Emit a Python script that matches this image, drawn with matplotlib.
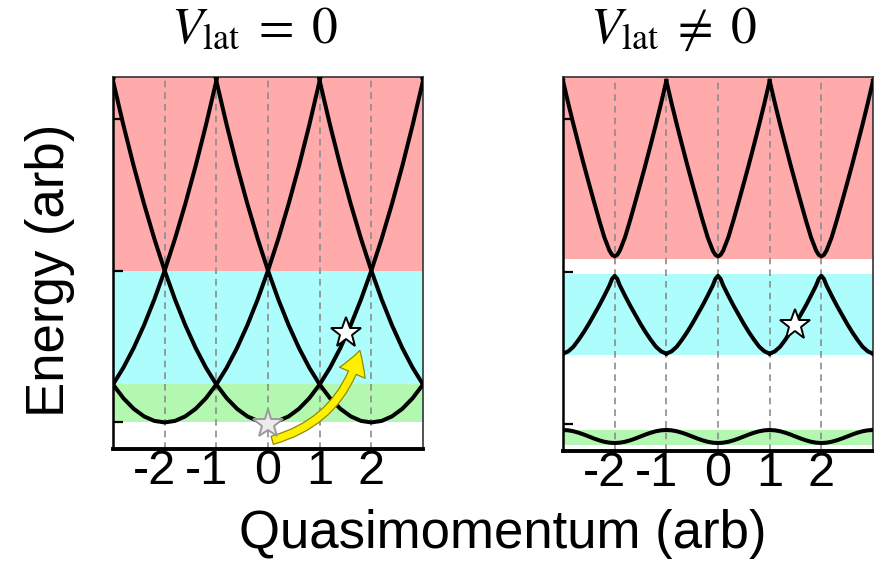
"""Free-particle vs lattice band structure, two panels."""
import numpy as np
import matplotlib
matplotlib.use("Agg")
import matplotlib.pyplot as plt
from matplotlib.patches import FancyArrowPatch
from matplotlib.transforms import ScaledTranslation

plt.rcParams["font.family"] = ["Liberation Sans", "DejaVu Sans"]
plt.rcParams["mathtext.fontset"] = "stix"

# ---------- data ----------
q_ticks = [-2, -1, 0, 1, 2]
q_tick_labels = ["-2", "-1", "0", "1", "2"]
y_ticks = [0, 4, 8]

# V_lat = 0 : free parabolas, one shape repeated at each reciprocal-lattice centre
free_centres = [-6, -4, -2, 0, 2, 4, 6]
free_dq = [0.0, 0.2, 0.4, 0.6, 0.8, 1.0, 1.2, 1.4, 1.6, 1.8, 2.0,
           2.2, 2.4, 2.6, 2.8, 3.0, 3.2]
free_E = [0.0, 0.04, 0.16, 0.36, 0.64, 1.0, 1.44, 1.96, 2.56, 3.24, 4.0,
          4.84, 5.76, 6.76, 7.84, 9.0, 10.24]
free_bands = [(0.0, 1.0, "#b3f8b1"), (1.0, 4.0, "#adfdfd"),
              (4.0, 9.2, "#ffabab")]

# V_lat != 0 : one half-period of each band (offset from q = 0, 2, ...)
lat_centres = [-4, -2, 0, 2, 4]
lat_dq = [0.0, 0.05, 0.1, 0.2, 0.3, 0.4, 0.5, 0.6, 0.7, 0.8, 0.9, 1.0]
band1_E = [-0.49, -0.487, -0.482, -0.458, -0.42, -0.373, -0.32, -0.267,
           -0.22, -0.182, -0.158, -0.15]
band2_E = [3.89, 3.81, 3.64, 3.37, 3.11, 2.87, 2.63, 2.41, 2.21, 2.03,
           1.91, 1.85]
band3_E = [4.40, 4.44, 4.55, 4.90, 5.35, 5.83, 6.32, 6.82, 7.34, 7.87,
           8.42, 9.0]
lat_bands = [(-0.53, -0.14, "#b3f8b1"), (1.81, 3.94, "#adfdfd"),
             (4.33, 9.2, "#ffabab")]

# stars (q, E)
free_star_q, free_star_E = [0.0, 1.5], [-0.05, 2.36]
lat_star_q, lat_star_E = [1.49], [2.60]
arrow_start = (0.03, -0.49)
arrow_end = (1.79, 1.97)

W, H = 874, 562
fig = plt.figure(figsize=(W / 100, H / 100), dpi=100)
ax1 = fig.add_axes([113 / W, (H - 449) / H, 310 / W, 372 / H])
ax2 = fig.add_axes([563 / W, (H - 451) / H, 310 / W, 374 / H])


def style_axes(ax):
    ax.set_xlim(-3, 3)
    ax.set_ylim(-0.7, 9.1)
    for q in q_ticks:
        ax.axvline(q, color="#8c8c8c", ls=(0, (4, 3)), lw=1.2, zorder=1)
    ax.set_xticks(q_ticks)
    ax.set_xticklabels(q_tick_labels, fontsize=35)
    ax.tick_params(axis="x", length=0, pad=0)
    ax.set_yticks(y_ticks)
    ax.set_yticklabels([])
    ax.tick_params(axis="y", direction="in", length=7, width=1.6)
    ax.spines["bottom"].set_linewidth(2.8)
    ax.spines["left"].set_linewidth(1.8)
    for s in ("top", "right"):
        ax.spines[s].set_linewidth(1.2)
        ax.spines[s].set_color("#333333")
    # minus-sign labels sit a bit left of their tick in the original
    shift = ScaledTranslation(-10 / 100, 0, fig.dpi_scale_trans)
    for tick in ax.xaxis.get_major_ticks()[:2]:
        tick.label1.set_transform(tick.label1.get_transform() + shift)


# ---------- left: V_lat = 0 ----------
for lo, hi, c in free_bands:
    ax1.axhspan(lo, hi, color=c, lw=0, zorder=0)
dq = np.array(free_dq)
q_par = np.concatenate([-dq[::-1], dq[1:]])
E_par = np.concatenate([np.array(free_E)[::-1], np.array(free_E)[1:]])
for c in free_centres:
    ax1.plot(c + q_par, E_par, color="black", lw=2.9, zorder=3)
style_axes(ax1)

arrow = FancyArrowPatch(arrow_start, arrow_end, connectionstyle="arc3,rad=0.3",
                        arrowstyle="simple,head_width=2.0,head_length=1.7,tail_width=0.6",
                        mutation_scale=10, facecolor="#fff000", edgecolor="#8f8a00",
                        lw=0.9, zorder=4)
ax1.add_patch(arrow)
ax1.plot(free_star_q[:1], free_star_E[:1], marker="*", ms=22, mfc="#ececec",
         mec="#9a9a9a", mew=1.4, ls="none", zorder=5)
ax1.plot(free_star_q[1:], free_star_E[1:], marker="*", ms=23, mfc="white",
         mec="black", mew=1.4, ls="none", zorder=5)

# ---------- right: V_lat != 0 ----------
for lo, hi, c in lat_bands:
    ax2.axhspan(lo, hi, color=c, lw=0, zorder=0)
d = np.array(lat_dq)
q_per = np.concatenate([-d[::-1], d[1:]])
for band in (band1_E, band2_E, band3_E):
    b = np.array(band)
    E_per = np.concatenate([b[::-1], b[1:]])
    for c in lat_centres:
        ax2.plot(c + q_per, E_per, color="black", lw=2.9, zorder=3)
style_axes(ax2)
ax2.plot(lat_star_q, lat_star_E, marker="*", ms=23, mfc="white",
         mec="black", mew=1.4, ls="none", zorder=5)

# ---------- titles and shared labels ----------
fig.text(254 / W, (H - 43) / H, r"$V_{\rm lat}\;=\;0$", fontsize=37,
         ha="center", va="baseline")
fig.text(673 / W, (H - 43) / H, r"$V_{\rm lat}\;\neq\;0$", fontsize=37,
         ha="center", va="baseline")
fig.text(50 / W, (H - 270) / H, "Energy (arb)", fontsize=38, rotation=90,
         ha="center", va="center")
fig.text(503 / W, (H - 548) / H, "Quasimomentum (arb)", fontsize=38,
         ha="center", va="baseline")

fig.savefig("out.png", dpi=100)
